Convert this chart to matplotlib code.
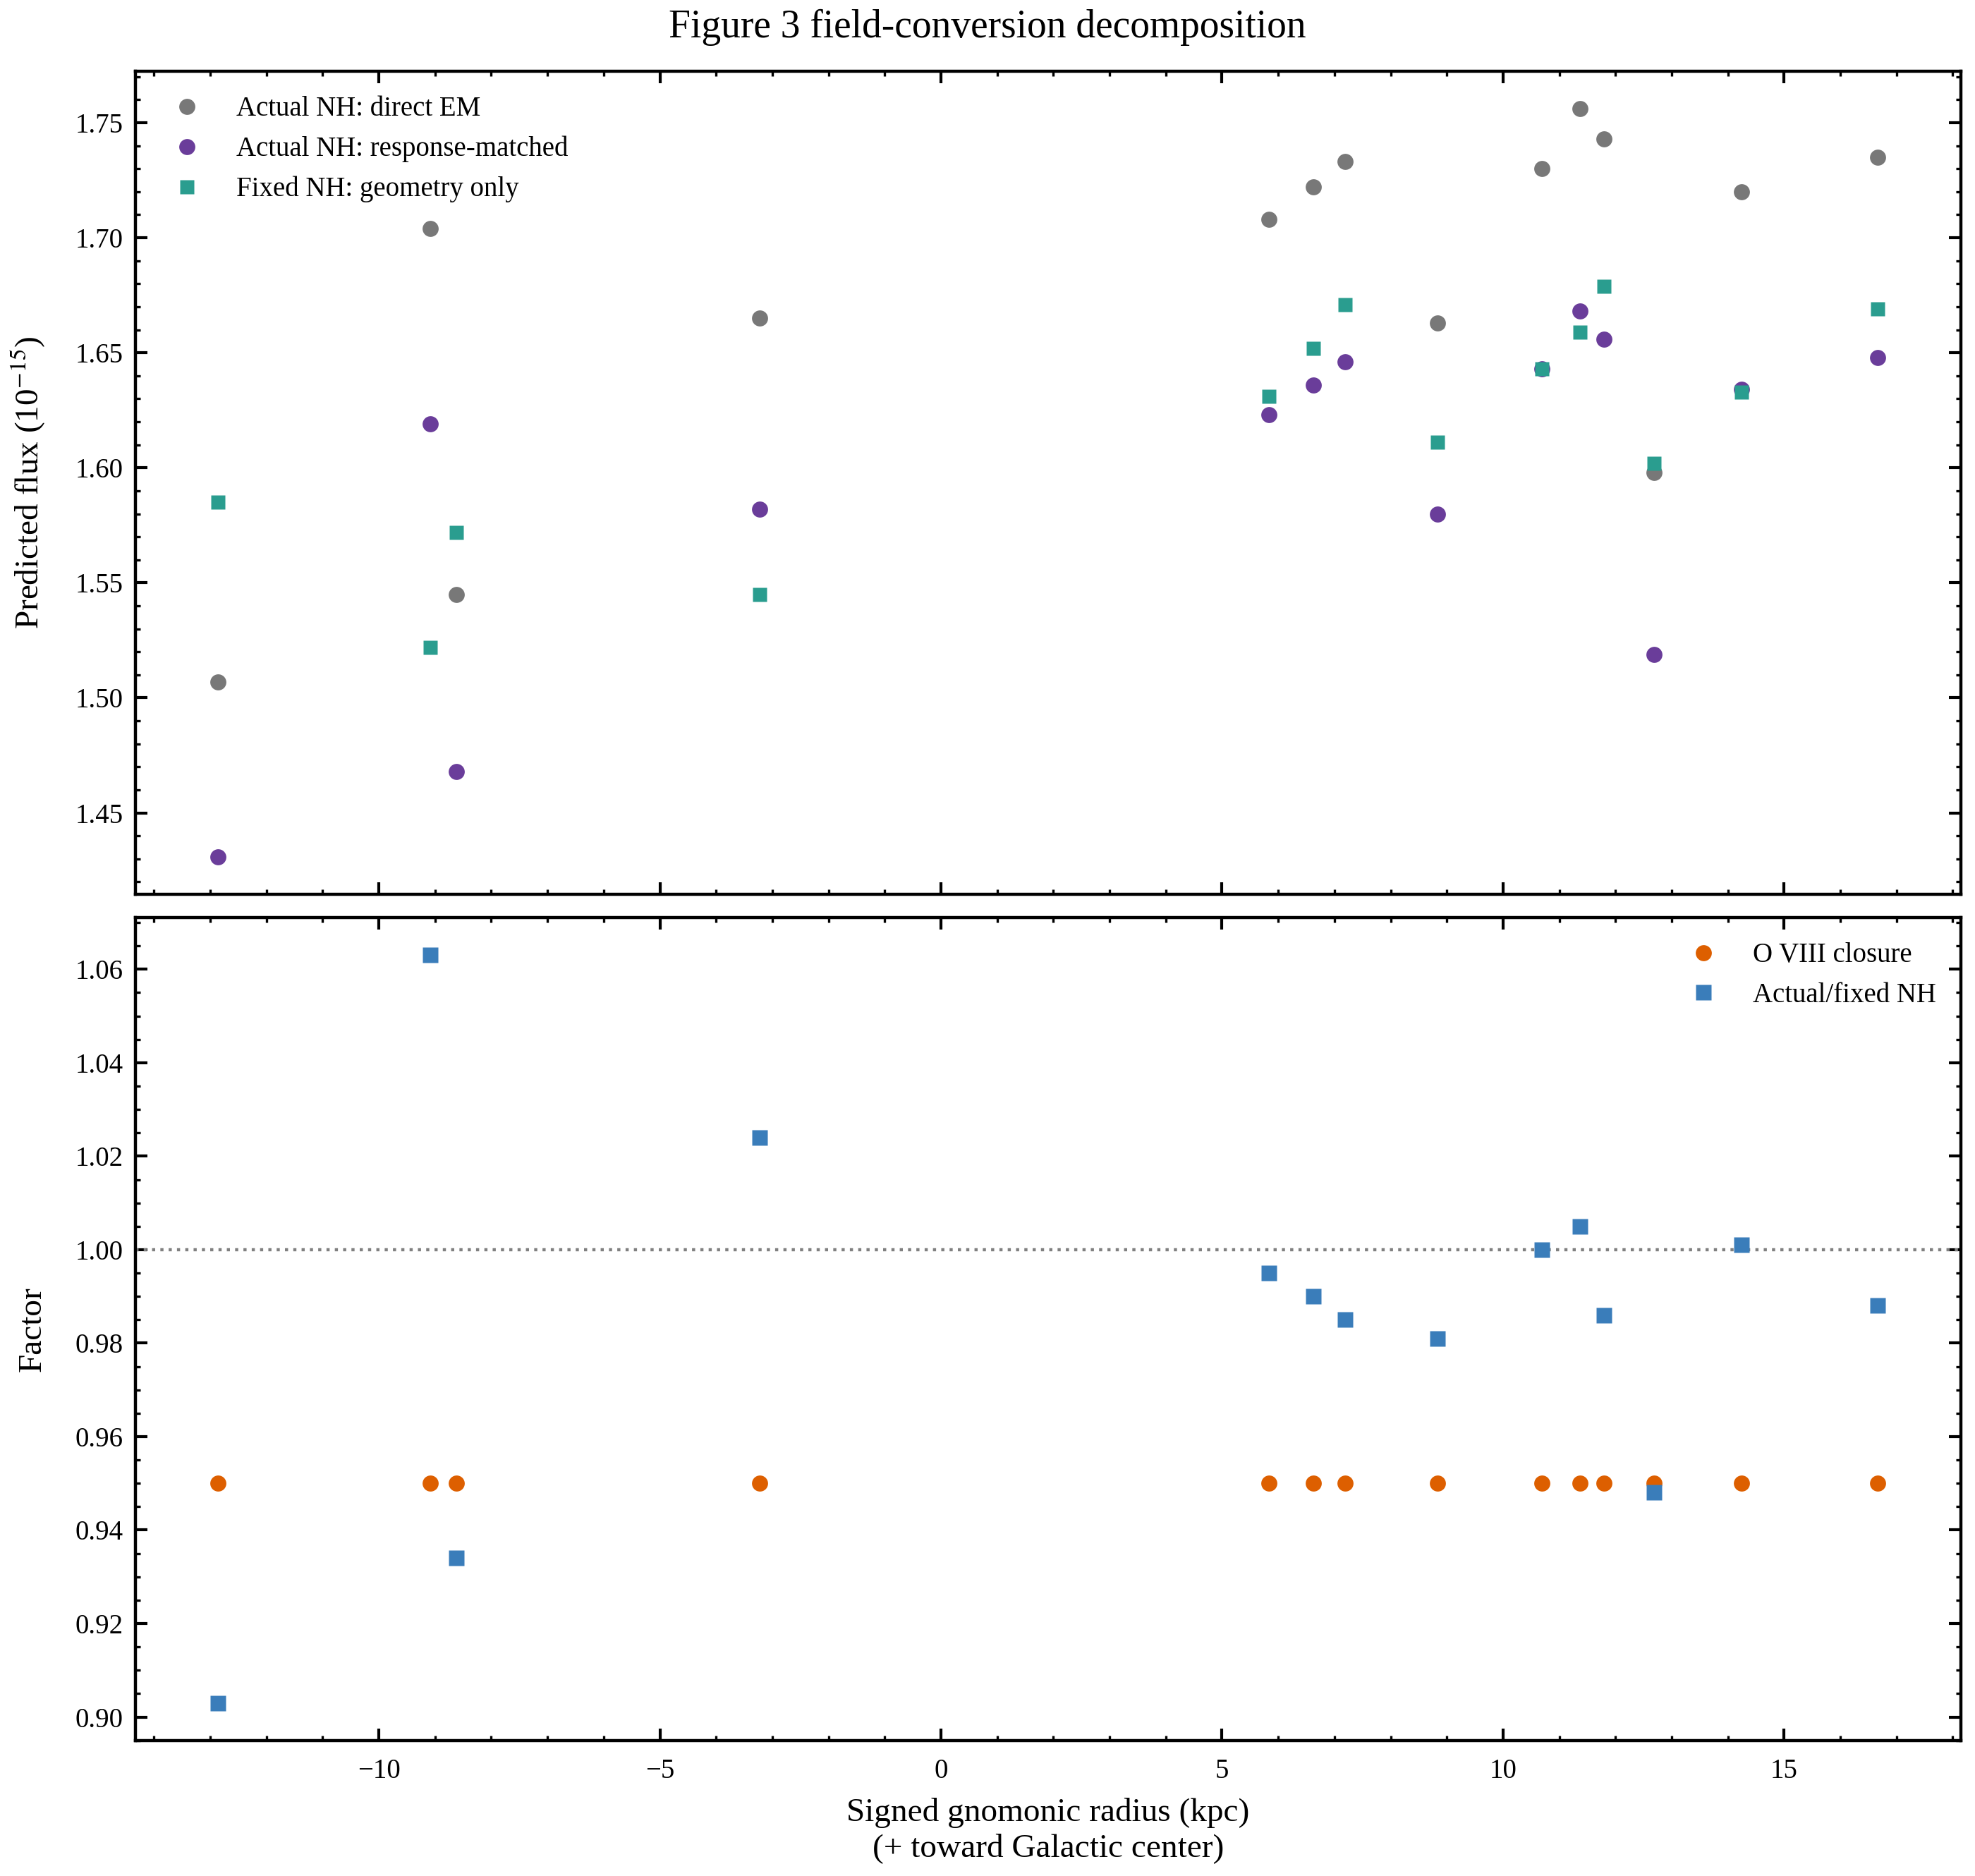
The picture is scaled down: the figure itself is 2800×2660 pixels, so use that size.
import matplotlib
matplotlib.use("Agg")
import matplotlib.pyplot as plt
from matplotlib.ticker import AutoMinorLocator

# ---- data ----
radius_kpc = [-12.86, -9.09, -8.62, -3.22, 5.84, 6.63, 7.19, 8.83,
              10.69, 11.37, 11.80, 12.69, 14.24, 16.67]
flux_direct_em = [1.507, 1.704, 1.545, 1.665, 1.708, 1.722, 1.733, 1.663,
                  1.730, 1.756, 1.743, 1.598, 1.720, 1.735]
flux_response_matched = [1.431, 1.619, 1.468, 1.582, 1.623, 1.636, 1.646, 1.580,
                         1.643, 1.668, 1.656, 1.519, 1.634, 1.648]
flux_geometry_only = [1.585, 1.522, 1.572, 1.545, 1.631, 1.652, 1.671, 1.611,
                      1.643, 1.659, 1.679, 1.602, 1.633, 1.669]
oviii_closure = [0.95, 0.95, 0.95, 0.95, 0.95, 0.95, 0.95, 0.95,
                 0.95, 0.95, 0.95, 0.95, 0.95, 0.95]
actual_fixed_ratio = [0.903, 1.063, 0.934, 1.024, 0.995, 0.990, 0.985, 0.981,
                      1.000, 1.005, 0.986, 0.948, 1.001, 0.988]

plt.rcParams.update({
    "font.family": ["Liberation Serif", "DejaVu Serif"],
    "mathtext.fontset": "stix",
    "font.size": 14,
    "axes.labelsize": 17,
    "axes.linewidth": 1.6,
    "xtick.direction": "in",
    "ytick.direction": "in",
    "xtick.top": True,
    "ytick.right": True,
    "xtick.major.size": 6,
    "ytick.major.size": 6,
    "xtick.minor.size": 2.5,
    "ytick.minor.size": 2.5,
    "xtick.major.width": 1.5,
    "ytick.major.width": 1.5,
    "xtick.minor.width": 1.2,
    "ytick.minor.width": 1.2,
    "xtick.minor.visible": True,
    "ytick.minor.visible": True,
    "xtick.major.pad": 9,
    "ytick.major.pad": 6,
    "axes.unicode_minus": True,
})

fig = plt.figure(figsize=(14, 13.3), dpi=200)
gs = fig.add_gridspec(2, 1, left=0.0684, right=0.9929, top=0.9619, bottom=0.0723,
                      hspace=0.029)
ax1 = fig.add_subplot(gs[0])
ax2 = fig.add_subplot(gs[1], sharex=ax1)

c_gray = "#787878"
c_purple = "#6a3d9a"
c_teal = "#2a9d8f"
c_orange = "#dd5f00"
c_blue = "#3a7dba"

ax1.plot(radius_kpc, flux_direct_em, "o", ms=8.2, color=c_gray, mec="none",
         label="Actual NH: direct EM")
ax1.plot(radius_kpc, flux_response_matched, "o", ms=8.2, color=c_purple, mec="none",
         label="Actual NH: response-matched")
ax1.plot(radius_kpc, flux_geometry_only, "s", ms=7.0, color=c_teal, mec="none",
         label="Fixed NH: geometry only")
ax1.set_ylabel(r"Predicted flux (10$^{-15}$)")
ax1.legend(loc="upper left", frameon=False, fontsize=14)
ax1.tick_params(labelbottom=False)

ax2.axhline(1.0, color="0.5", ls=":", lw=1.6)
ax2.plot(radius_kpc, oviii_closure, "o", ms=8.2, color=c_orange, mec="none",
         label="O VIII closure")
ax2.plot(radius_kpc, actual_fixed_ratio, "s", ms=7.6, color=c_blue, mec="none",
         label="Actual/fixed NH")
ax2.set_ylabel("Factor")
ax2.set_xlabel("Signed gnomonic radius (kpc)\n(+ toward Galactic center)", labelpad=7)
ax2.legend(loc="upper right", frameon=False, fontsize=14)

for ax in (ax1, ax2):
    ax.xaxis.set_minor_locator(AutoMinorLocator())
    ax.yaxis.set_minor_locator(AutoMinorLocator())
    ax.yaxis.set_label_coords(-0.048, 0.5)

fig.text(0.5, 0.9855, "Figure 3 field-conversion decomposition", ha="center",
         va="center", fontsize=20)

fig.savefig("out.png", dpi=200)
